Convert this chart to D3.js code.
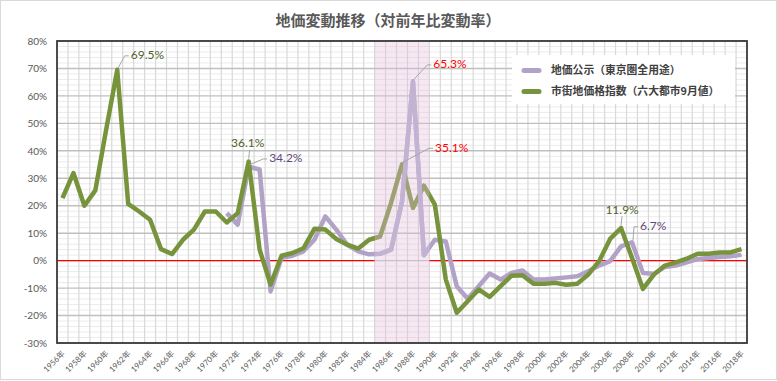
<!DOCTYPE html>
<html><head><meta charset="utf-8">
<script src="https://cdn.jsdelivr.net/npm/d3@7"></script>
<style>html,body{margin:0;padding:0;background:#fff}svg{display:block}</style>
</head><body><svg id="c" width="777" height="381"></svg>
<script>
// ---------------- data ----------------
const years = [1956,1957,1958,1959,1960,1961,1962,1963,1964,1965,1966,1967,1968,1969,1970,
  1971,1972,1973,1974,1975,1976,1977,1978,1979,1980,1981,1982,1983,1984,1985,1986,1987,1988,1989,1990,
  1991,1992,1993,1994,1995,1996,1997,1998,1999,2000,2001,2002,2003,2004,2005,2006,2007,2008,2009,2010,
  2011,2012,2013,2014,2015,2016,2017,2018];
// 市街地価格指数（六大都市9月値）
const cityIndex = [22.8,31.9,20.0,25.6,48.0,69.5,20.7,17.9,14.9,4.2,2.4,7.6,11.3,17.9,17.9,
  13.9,17.3,36.1,4.0,-8.7,1.8,2.8,4.5,11.6,11.3,7.9,5.8,4.4,7.6,8.8,21.0,35.1,19.2,27.3,20.4,
  -6.9,-19.0,-14.8,-10.5,-13.2,-9.3,-5.5,-5.3,-8.4,-8.4,-8.1,-8.8,-8.4,-5.1,-0.2,7.9,11.9,1.0,-10.3,-5.1,
  -1.8,-0.6,0.7,2.5,2.5,3.0,3.0,4.2];
// 地価公示（東京圏全用途）
const officialPrice = [null,null,null,null,null,null,null,null,null,null,null,null,null,null,null,
  17.3,13.1,34.2,33.2,-11.2,1.0,1.8,3.4,7.6,16.1,11.3,5.8,3.4,2.3,2.5,4.0,21.5,65.3,2.0,7.6,
  7.0,-9.3,-13.9,-9.3,-4.7,-6.9,-4.5,-3.6,-6.9,-6.9,-6.5,-6.1,-5.7,-3.9,-1.8,-0.2,5.2,6.7,-4.5,-4.8,
  -2.3,-1.8,-0.6,0.6,1.0,1.3,1.6,2.1];
const yTicks = [-30,-20,-10,0,10,20,30,40,50,60,70,80];
const xLabelYears = [1956,1958,1960,1962,1964,1966,1968,1970,1972,1974,1976,1978,1980,1982,1984,1986,
  1988,1990,1992,1994,1996,1998,2000,2002,2004,2006,2008,2010,2012,2014,2016,2018];
const bubbleYears = [1985,1989];
const seriesNames = ["地価公示（東京圏全用途）","市街地価格指数（六大都市9月値）"];
const titleText = "地価変動推移（対前年比変動率）";
const annotations = [
  {key:"a1", series:"city", year:1961, text:"69.5%"},
  {key:"a2", series:"city", year:1973, text:"36.1%"},
  {key:"a3", series:"official", year:1973, text:"34.2%"},
  {key:"a4", series:"official", year:1988, text:"65.3%"},
  {key:"a5", series:"city", year:1987, text:"35.1%"},
  {key:"a6", series:"city", year:2007, text:"11.9%"},
  {key:"a7", series:"official", year:2008, text:"6.7%"}
];

// ---------------- styles / layout ----------------
const M = {l:57, r:747, t:41, b:343};
const colPurple = "#b3a2c7", colGreen = "#77933c";
const labelStyle = {
  a1:{dx:13.5, dy:-15, anchor:"start", color:"#4f6228"},
  a2:{dx:-1, dy:-18.6, anchor:"middle", color:"#4f6228"},
  a3:{dx:20.5, dy:-8.8, anchor:"start", color:"#5f497a"},
  a4:{dx:20.3, dy:-17.4, anchor:"start", color:"#ff0000"},
  a5:{dx:33, dy:-17, anchor:"start", color:"#ff0000"},
  a6:{dx:1, dy:-18.7, anchor:"middle", color:"#4f6228"},
  a7:{dx:8, dy:-16.5, anchor:"start", color:"#5f497a"}
};
const latinFont = "Lato, 'Noto Sans CJK JP', sans-serif";
const cjkFont = "'Noto Sans CJK JP', sans-serif";

const svg = d3.select("#c");
svg.append("rect").attr("x",0.5).attr("y",0.5).attr("width",776).attr("height",379)
  .attr("fill","#fff").attr("stroke","#d9d9d9");

const x = d3.scaleBand().domain(years).range([M.l, M.r]).padding(0);
const bw = x.bandwidth();
const cx = d => x(d) + bw/2;
const y = d3.scaleLinear().domain([-30,80]).range([M.b, M.t]);

// title
svg.append("text").attr("x",388).attr("y",26).attr("text-anchor","middle")
  .attr("font-family",cjkFont).attr("font-weight","bold").attr("font-size",15)
  .attr("fill","#595959").text(titleText);

const g = svg.append("g");
// minor horizontal grid
g.selectAll("line.hmin").data(y.ticks(55).filter(v => v % 10 !== 0)).join("line")
  .attr("x1",M.l).attr("x2",M.r).attr("y1",d=>y(d)).attr("y2",d=>y(d))
  .attr("stroke","#ebebeb").attr("stroke-width",1);
// vertical grid
g.selectAll("line.v").data(years.slice(1)).join("line")
  .attr("x1",d=>x(d)).attr("x2",d=>x(d)).attr("y1",M.t).attr("y2",M.b)
  .attr("stroke","#d9d9d9").attr("stroke-width",1.2);
// major horizontal grid
g.selectAll("line.hmaj").data(yTicks).join("line")
  .attr("x1",M.l).attr("x2",M.r).attr("y1",d=>y(d)).attr("y2",d=>y(d))
  .attr("stroke","#bfbfbf").attr("stroke-width",1.4);

// zero line, interrupted by the bubble shading
const sx0 = x(bubbleYears[0]), sx1 = x(bubbleYears[1]) + bw;
[[M.l, sx0],[sx1, M.r]].forEach(([a,b]) => {
  g.append("line").attr("x1",a).attr("x2",b).attr("y1",y(0)).attr("y2",y(0))
    .attr("stroke","#ff0000").attr("stroke-width",1.2);
});

const line = d3.line().defined(d => d.v != null).x(d => cx(d.year)).y(d => y(d.v));
const dPurple = years.map((yr,i) => ({year:yr, v:officialPrice[i]}));
const dGreen = years.map((yr,i) => ({year:yr, v:cityIndex[i]}));

g.append("path").attr("d",line(dPurple)).attr("fill","none").attr("stroke",colPurple)
  .attr("stroke-width",4.5).attr("stroke-linejoin","round");
g.append("path").attr("d",line(dGreen)).attr("fill","none").attr("stroke",colGreen)
  .attr("stroke-width",4.5).attr("stroke-linejoin","round");

// shading
g.append("rect").attr("x",sx0).attr("y",M.t).attr("width",sx1-sx0).attr("height",M.b-M.t)
  .attr("fill","#e5bddd").attr("opacity",0.35);
svg.append("clipPath").attr("id","shadeClip").append("rect")
  .attr("x",sx0).attr("y",M.t).attr("width",sx1-sx0).attr("height",M.b-M.t);
g.append("path").attr("d",line(dPurple)).attr("fill","none").attr("stroke","#c3b3d3")
  .attr("stroke-width",4.5).attr("stroke-linejoin","round").attr("clip-path","url(#shadeClip)");

// plot border
svg.append("rect").attr("x",M.l).attr("y",M.t).attr("width",M.r-M.l).attr("height",M.b-M.t)
  .attr("fill","none").attr("stroke","#3a3a3a").attr("stroke-width",1.8);

// axes
const ya = svg.append("g").attr("transform",`translate(${M.l},0)`)
  .call(d3.axisLeft(y).tickValues(yTicks).tickSize(0).tickPadding(10).tickFormat(d => d + "%"));
ya.select(".domain").remove();
ya.selectAll("text").attr("font-family",latinFont).attr("font-size",10).attr("fill","#595959");

const xa = svg.append("g").attr("transform",`translate(0,${M.b})`)
  .call(d3.axisBottom(x).tickValues(xLabelYears).tickSize(0).tickFormat(d => d + "年"));
xa.select(".domain").remove();
xa.selectAll("text").attr("y",0).attr("x",0).attr("dy","0.35em")
  .attr("transform","translate(1,9) rotate(-45)").style("text-anchor","end")
  .attr("font-family",latinFont).attr("font-size",8).attr("fill","#595959");

// legend
const lg = svg.append("g");
lg.append("rect").attr("x",512).attr("y",55).attr("width",223).attr("height",49).attr("fill","#fff");
[colPurple, colGreen].forEach((c,i) => {
  const yy = 70.5 + i*21;
  lg.append("line").attr("x1",524).attr("x2",539).attr("y1",yy).attr("y2",yy)
    .attr("stroke",c).attr("stroke-width",5).attr("stroke-linecap","round");
  lg.append("text").attr("x",551).attr("y",yy).attr("dy","0.36em")
    .attr("font-family",cjkFont).attr("font-weight","bold").attr("font-size",10.8)
    .attr("fill","#404040").text(seriesNames[i]);
});

// annotations
annotations.forEach(a => {
  const idx = years.indexOf(a.year);
  const v = a.series === "city" ? cityIndex[idx] : officialPrice[idx];
  const px = cx(a.year), py = y(v);
  const s = labelStyle[a.key];
  const tx = px + s.dx, ty = py + s.dy;
  let pts;
  if (s.anchor === "middle") {
    pts = [[px, py - 3], [px + 1, ty + 7]];
  } else {
    pts = [[px + 1, py - 2], [tx - 6, ty + 1], [tx - 2, ty + 1]];
  }
  svg.append("path").attr("d", d3.line()(pts)).attr("fill","none")
    .attr("stroke","#a6a6a6").attr("stroke-width",1);
  svg.append("text").attr("x",tx).attr("y",ty).attr("dy","0.36em")
    .attr("text-anchor",s.anchor).attr("font-family",latinFont).attr("font-size",12)
    .attr("fill",s.color).text(a.text);
});
</script></body></html>
